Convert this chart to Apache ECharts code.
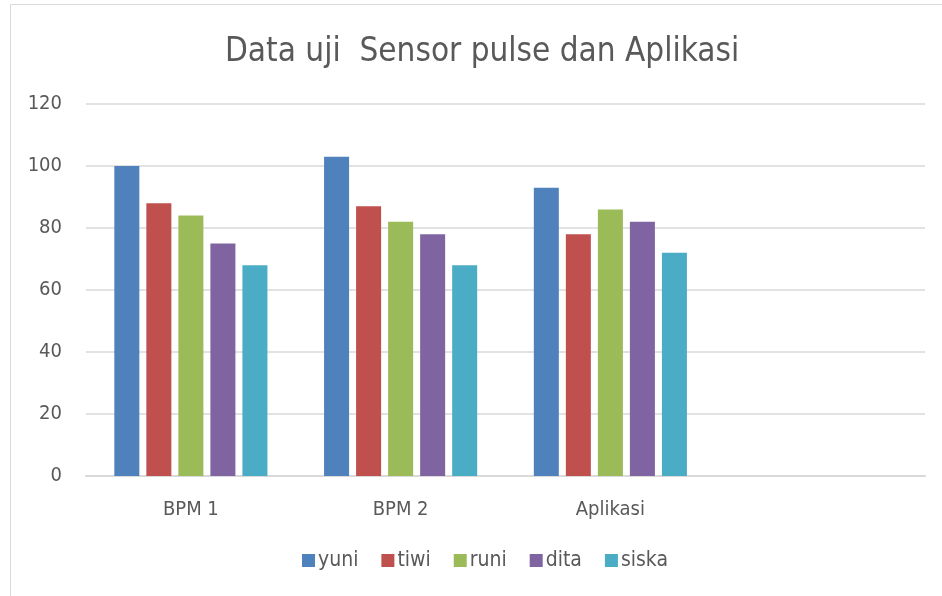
<!DOCTYPE html>
<html>
<head>
<meta charset="utf-8">
<script src="https://cdn.jsdelivr.net/npm/echarts@6/dist/echarts.min.js"></script>
<style>
  html, body { margin: 0; padding: 0; background: #fff; }
  #chart { width: 942px; height: 596px; }
</style>
</head>
<body>
<div id="chart"></div>
<script>
// kategori (kolom ke-4 kosong seperti di Excel)
const categories = ['BPM 1', 'BPM 2', 'Aplikasi', ''];
const names = ['yuni', 'tiwi', 'runi', 'dita', 'siska'];
const colors = ['#4f81bd', '#c0504d', '#9bbb59', '#8064a2', '#4bacc6'];

const yuni = [100, 103, 93, null];
const tiwi = [88, 87, 78, null];
const runi = [84, 82, 86, null];
const dita = [75, 78, 82, null];
const siska = [68, 68, 72, null];
const values = [yuni, tiwi, runi, dita, siska];

const yTicks = { min: 0, max: 120, interval: 20 };

const font = '"Liberation Sans Narrow", "DejaVu Sans Condensed", sans-serif';
const chart = echarts.init(document.getElementById('chart'));

const option = {
  backgroundColor: '#fff',
  animation: false,
  textStyle: { fontFamily: font },
  title: {
    text: 'Data uji  Sensor pulse dan Aplikasi',
    left: 220,
    top: 31,
    textStyle: { fontSize: 33, fontWeight: 'normal', color: '#595959', fontFamily: font }
  },
  graphic: [{
    type: 'rect',
    shape: { x: 10.5, y: 4.5, width: 940, height: 600 },
    style: { fill: 'none', stroke: '#d9d9d9', lineWidth: 1 },
    silent: true
  }],
  legend: {
    data: names,
    bottom: 20,
    left: 297,
    itemWidth: 13,
    itemHeight: 13,
    itemGap: 23,
    icon: 'rect',
    textStyle: { fontSize: 21, color: '#595959', fontFamily: font, padding: [0, 0, 0, -2] }
  },
  grid: { left: 86, right: 17, top: 104, bottom: 120 },
  xAxis: {
    type: 'category',
    data: categories,
    axisLine: { lineStyle: { color: '#d9d9d9', width: 2 } },
    axisTick: { show: false },
    axisLabel: { fontSize: 20, color: '#595959', margin: 24, fontFamily: font }
  },
  yAxis: {
    type: 'value',
    min: yTicks.min,
    max: yTicks.max,
    interval: yTicks.interval,
    axisLine: { show: false },
    axisTick: { show: false },
    axisLabel: { fontSize: 20, color: '#595959', margin: 24, fontFamily: font },
    splitLine: { lineStyle: { color: '#d9d9d9', width: 1.5 } }
  },
  series: names.map((n, i) => ({
    name: n,
    type: 'bar',
    data: values[i],
    barGap: '28%',
    barCategoryGap: '27%',
    itemStyle: { color: colors[i] }
  }))
};

chart.setOption(option);
</script>
</body>
</html>
